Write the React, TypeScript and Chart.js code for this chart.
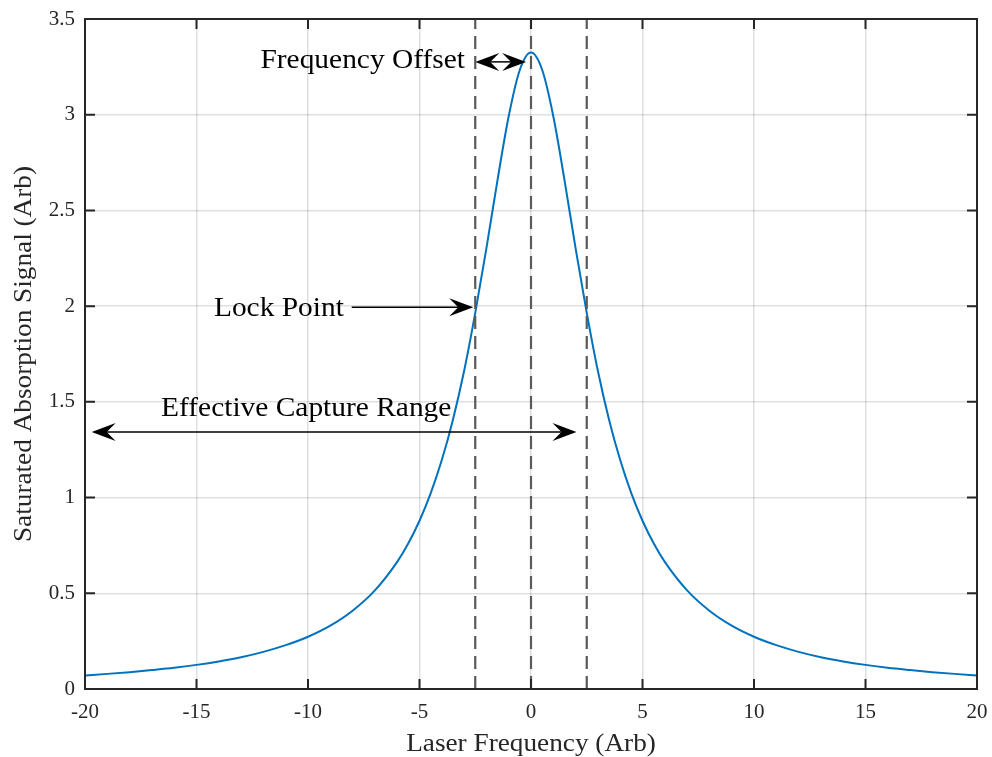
import React, { useEffect, useRef } from "react";
import { Chart, registerables } from "chart.js";

Chart.register(...registerables);

// ---- data ----
const frequency = [
  -20, -19, -18, -17, -16, -15, -14, -13, -12, -11, -10, -9, -8, -7, -6, -5.5, -5, -4.5, -4, -3.5, -3, -2.5, -2, -1.5, -1, -0.5,
  0,
  0.5, 1, 1.5, 2, 2.5, 3, 3.5, 4, 4.5, 5, 5.5, 6, 7, 8, 9, 10, 11, 12, 13, 14, 15, 16, 17, 18, 19, 20,
];
const signal = [
  0.071, 0.079, 0.088, 0.099, 0.111, 0.126, 0.144, 0.166, 0.194, 0.229, 0.273, 0.331, 0.409, 0.515, 0.664, 0.761, 0.879, 1.022, 1.196, 1.407, 1.661, 1.965, 2.302, 2.66, 2.992, 3.235,
  3.325,
  3.235, 2.992, 2.66, 2.302, 1.965, 1.661, 1.407, 1.196, 1.022, 0.879, 0.761, 0.664, 0.515, 0.409, 0.331, 0.273, 0.229, 0.194, 0.166, 0.144, 0.126, 0.111, 0.099, 0.088, 0.079, 0.071,
];
const markerFrequencies = [-2.5, 0, 2.5];
const xTickValues = [-20, -15, -10, -5, 0, 5, 10, 15, 20];
const yTickValues = [0, 0.5, 1, 1.5, 2, 2.5, 3, 3.5];
const xTitle = "Laser Frequency (Arb)";
const yTitle = "Saturated Absorption Signal (Arb)";

// annotation anchors, in data units
const offsetLabel = "Frequency Offset";
const offsetLabelAt = [-2.96, 3.246];
const offsetArrowX = [-2.5, -0.22];
const offsetArrowY = 3.276;

const lockLabel = "Lock Point";
const lockLabelAt = [-8.39, 1.951];
const lockArrowX = [-8.04, -2.59];
const lockArrowY = 1.994;

const captureLabel = "Effective Capture Range";
const captureLabelAt = [-10.08, 1.424];
const captureArrowX = [-19.7, 2.04];
const captureArrowY = 1.343;

const SERIF = "'Liberation Serif', 'Times New Roman', serif";
const AXIS_COLOR = "#262626";
const WIDEN = 1.09;

function drawText(ctx: CanvasRenderingContext2D, text: string, x: number, y: number, size: number, align: CanvasTextAlign, color: string, rotate = 0) {
  ctx.save();
  ctx.translate(x, y);
  if (rotate) ctx.rotate(rotate);
  ctx.scale(WIDEN, 1);
  ctx.font = `${size}px ${SERIF}`;
  ctx.fillStyle = color;
  ctx.textAlign = align;
  ctx.textBaseline = "alphabetic";
  ctx.fillText(text, 0, 0);
  ctx.restore();
}

const HEAD_L = 24;
const HEAD_N = 15;
const HEAD_W = 9;

function drawHead(ctx: CanvasRenderingContext2D, tx: number, ty: number, dir: number) {
  ctx.beginPath();
  ctx.moveTo(tx, ty);
  ctx.lineTo(tx - dir * HEAD_L, ty - HEAD_W);
  ctx.lineTo(tx - dir * HEAD_N, ty);
  ctx.lineTo(tx - dir * HEAD_L, ty + HEAD_W);
  ctx.closePath();
  ctx.fill();
}

function drawArrow(ctx: CanvasRenderingContext2D, x1: number, x2: number, y: number, double: boolean) {
  ctx.beginPath();
  ctx.moveTo(double ? x1 + HEAD_N : x1, y);
  ctx.lineTo(x2 - HEAD_N, y);
  ctx.stroke();
  drawHead(ctx, x2, y, 1);
  if (double) drawHead(ctx, x1, y, -1);
}

const overlayPlugin = {
  id: "overlay",
  afterDatasetsDraw(chart: any) {
    const { ctx, chartArea: a, scales } = chart;
    const xs = scales.x;
    const ys = scales.y;
    ctx.save();
    // inward ticks on all four sides + box
    ctx.strokeStyle = AXIS_COLOR;
    ctx.lineWidth = 2;
    ctx.beginPath();
    for (const v of xTickValues) {
      const px = xs.getPixelForValue(v);
      ctx.moveTo(px, a.bottom);
      ctx.lineTo(px, a.bottom - 10);
      ctx.moveTo(px, a.top);
      ctx.lineTo(px, a.top + 10);
    }
    for (const v of yTickValues) {
      const py = ys.getPixelForValue(v);
      ctx.moveTo(a.left, py);
      ctx.lineTo(a.left + 10, py);
      ctx.moveTo(a.right, py);
      ctx.lineTo(a.right - 10, py);
    }
    ctx.stroke();
    ctx.strokeRect(a.left, a.top, a.right - a.left, a.bottom - a.top);

    // annotations
    ctx.strokeStyle = "#000";
    ctx.fillStyle = "#000";
    ctx.lineWidth = 1.5;
    drawArrow(ctx, xs.getPixelForValue(offsetArrowX[0]), xs.getPixelForValue(offsetArrowX[1]), ys.getPixelForValue(offsetArrowY), true);
    drawArrow(ctx, xs.getPixelForValue(lockArrowX[0]), xs.getPixelForValue(lockArrowX[1]), ys.getPixelForValue(lockArrowY), false);
    drawArrow(ctx, xs.getPixelForValue(captureArrowX[0]), xs.getPixelForValue(captureArrowX[1]), ys.getPixelForValue(captureArrowY), true);

    drawText(ctx, offsetLabel, xs.getPixelForValue(offsetLabelAt[0]), ys.getPixelForValue(offsetLabelAt[1]), 27, "right", "#000");
    drawText(ctx, lockLabel, xs.getPixelForValue(lockLabelAt[0]), ys.getPixelForValue(lockLabelAt[1]), 27, "right", "#000");
    drawText(ctx, captureLabel, xs.getPixelForValue(captureLabelAt[0]), ys.getPixelForValue(captureLabelAt[1]), 27, "center", "#000");

    // axis titles
    drawText(ctx, xTitle, (a.left + a.right) / 2, 751, 25, "center", AXIS_COLOR);
    drawText(ctx, yTitle, 31, (a.top + a.bottom) / 2, 25, "center", AXIS_COLOR, -Math.PI / 2);
    ctx.restore();
  },
};

export default function App() {
  const canvasRef = useRef<HTMLCanvasElement | null>(null);

  useEffect(() => {
    const canvas = canvasRef.current;
    if (!canvas) return;
    const curve = frequency.map((f, i) => ({ x: f, y: signal[i] }));
    const markers = markerFrequencies.map((f) => ({
      type: "line" as const,
      data: [
        { x: f, y: yTickValues[0] },
        { x: f, y: yTickValues[yTickValues.length - 1] },
      ],
      borderColor: "#5a5a5a",
      borderWidth: 2.2,
      borderDash: [13, 7],
      pointRadius: 0,
      fill: false,
      order: 0,
    }));

    const chart = new Chart(canvas, {
      type: "line",
      data: {
        datasets: [
          {
            data: curve,
            borderColor: "#0072BD",
            borderWidth: 2,
            pointRadius: 0,
            fill: false,
            cubicInterpolationMode: "monotone",
            order: 1,
          },
          ...markers,
        ] as any,
      },
      options: {
        animation: false,
        responsive: false,
        events: [],
        layout: { padding: { left: 0, right: 15, top: 19, bottom: 0 } },
        plugins: { legend: { display: false }, tooltip: { enabled: false }, title: { display: false } },
        scales: {
          x: {
            type: "linear",
            min: -20,
            max: 20,
            afterBuildTicks: (s: any) => {
              s.ticks = xTickValues.map((v) => ({ value: v }));
            },
            afterFit: (s: any) => {
              s.height = 68;
              s.paddingLeft = 0;
              s.paddingRight = 0;
              s.paddingTop = 0;
              s.paddingBottom = 0;
            },
            grid: { color: "rgba(38,38,38,0.15)", lineWidth: 1.5, drawTicks: false },
            border: { display: false },
            ticks: {
              padding: 11,
              maxRotation: 0,
              autoSkip: false,
              color: AXIS_COLOR,
              font: { family: SERIF, size: 21 },
              callback: (v: any) => String(v),
            },
          },
          y: {
            type: "linear",
            min: 0,
            max: 3.5,
            afterBuildTicks: (s: any) => {
              s.ticks = yTickValues.map((v) => ({ value: v }));
            },
            afterFit: (s: any) => {
              s.width = 85;
              s.paddingLeft = 0;
              s.paddingRight = 0;
              s.paddingTop = 0;
              s.paddingBottom = 0;
            },
            grid: { color: "rgba(38,38,38,0.15)", lineWidth: 1.5, drawTicks: false },
            border: { display: false },
            ticks: {
              padding: 10,
              autoSkip: false,
              color: AXIS_COLOR,
              font: { family: SERIF, size: 21 },
              callback: (v: any) => String(v),
            },
          },
        },
      },
      plugins: [overlayPlugin],
    });
    return () => chart.destroy();
  }, []);

  return (
    <div style={{ position: "absolute", left: 0, top: 0, width: 992, height: 757, background: "#fff" }}>
      <canvas ref={canvasRef} width={992} height={757} style={{ display: "block", width: 992, height: 757 }} />
    </div>
  );
}
